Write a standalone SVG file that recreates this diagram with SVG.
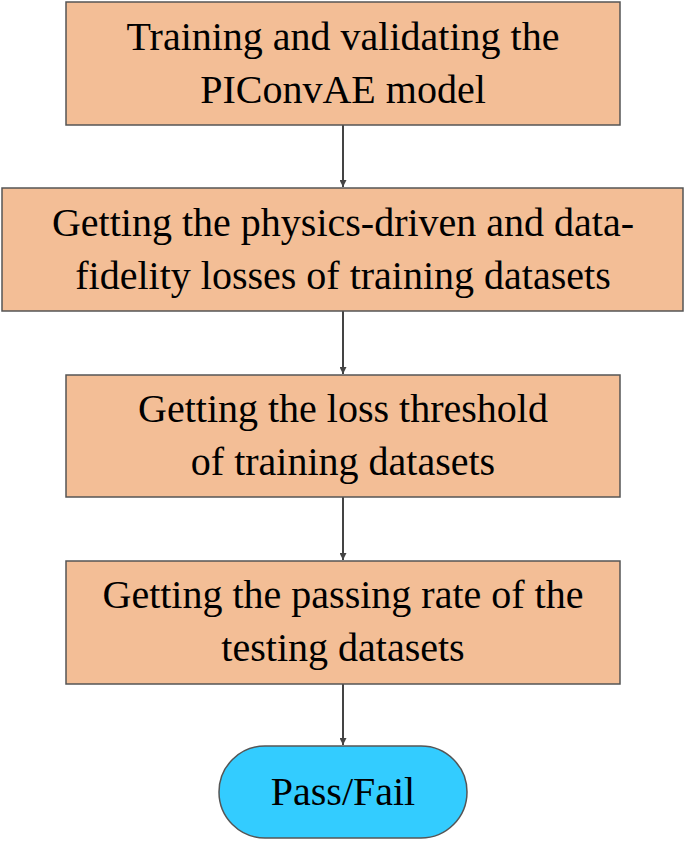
<svg xmlns="http://www.w3.org/2000/svg" width="685" height="841" viewBox="0 0 685 841">
<style>
.box{fill:#F3BE96;stroke:#555;stroke-width:1.5}
.pill{fill:#33CCFF;stroke:#555;stroke-width:1.5}
text{font-family:"Liberation Serif",serif;font-size:40px;fill:#000;text-anchor:middle}
.c{stroke:#444;stroke-width:2;fill:none;marker-end:url(#a)}
</style>
<defs><marker id="a" viewBox="0 0 10 10" refX="10" refY="5" markerWidth="7" markerHeight="7" orient="auto" markerUnits="userSpaceOnUse"><path d="M0,0L10,5L0,10z" fill="#444"/></marker></defs>
<rect width="685" height="841" fill="#fff"/>
<g id="connectors">
<line class="c" x1="343" y1="125" x2="343" y2="187"/>
<line class="c" x1="343" y1="311" x2="343" y2="374"/>
<line class="c" x1="343" y1="497" x2="343" y2="560"/>
<line class="c" x1="343" y1="684" x2="343" y2="745"/>
</g>
<g id="n1"><rect class="box" x="66" y="2" width="554" height="123"/><text x="343" y="50">Training and validating the</text><text x="343" y="103">PIConvAE model</text></g>
<g id="n2"><rect class="box" x="2" y="188" width="681" height="123"/><text x="343" y="236">Getting the physics-driven and data-</text><text x="343" y="289">fidelity losses of training datasets</text></g>
<g id="n3"><rect class="box" x="66" y="375" width="554" height="122"/><text x="343" y="422">Getting the  loss threshold</text><text x="343" y="475">of training datasets</text></g>
<g id="n4"><rect class="box" x="66" y="561" width="554" height="123"/><text x="343" y="608">Getting the passing rate of the</text><text x="343" y="661">testing datasets</text></g>
<g id="n5"><rect class="pill" x="219" y="746" width="248" height="92" rx="46"/><text x="343" y="805">Pass/Fail</text></g>
</svg>
